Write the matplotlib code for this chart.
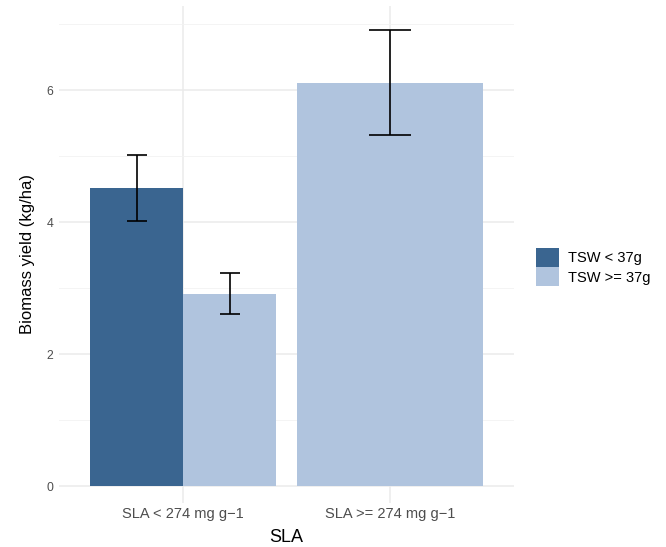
import numpy as np
import matplotlib.pyplot as plt
from matplotlib.patches import Patch

plt.rcParams['font.family'] = ['Liberation Sans', 'DejaVu Sans']

# data
categories = ['SLA < 274 mg g\u22121', 'SLA >= 274 mg g\u22121']
groups = ['TSW < 37g', 'TSW >= 37g']
colors = ['#3A6590', '#B0C4DE']

low_mean = [4.52]          # TSW < 37g, only in first SLA class
low_err = [0.50]
high_mean = [2.92, 6.12]   # TSW >= 37g
high_err = [0.31, 0.80]

fig = plt.figure(figsize=(6.66, 5.47), dpi=100)
ax = fig.add_axes([59 / 666, 1 - 503 / 547, (514 - 59) / 666, (503 - 6) / 547])

x = np.arange(1, len(categories) + 1)

# first category: dodged bars
ax.bar(x[0] - 0.225, low_mean[0], width=0.45, color=colors[0], zorder=2)
ax.bar(x[0] + 0.225, high_mean[0], width=0.45, color=colors[1], zorder=2)
ax.errorbar(x[0] - 0.225, low_mean[0], yerr=low_err[0], fmt='none',
            ecolor='black', elinewidth=1.2, capsize=7.5, capthick=1.2, zorder=3)
ax.errorbar(x[0] + 0.225, high_mean[0], yerr=high_err[0], fmt='none',
            ecolor='black', elinewidth=1.2, capsize=7.5, capthick=1.2, zorder=3)

# second category: single full-width bar
ax.bar(x[1], high_mean[1], width=0.9, color=colors[1], zorder=2)
ax.errorbar(x[1], high_mean[1], yerr=high_err[1], fmt='none',
            ecolor='black', elinewidth=1.2, capsize=15, capthick=1.2, zorder=3)

ax.set_ylim(-0.25, 7.28)
ax.set_xlim(0.4, 2.6)

ax.set_yticks([0, 2, 4, 6])
ax.set_yticks([1, 3, 5, 7], minor=True)
ax.set_xticks(x)
ax.set_xticklabels(categories)

ax.grid(True, which='major', color='#EBEBEB', linewidth=1.1, zorder=0)
ax.grid(True, which='minor', axis='y', color='#F2F2F2', linewidth=0.6, zorder=0)
ax.set_axisbelow(True)
for s in ax.spines.values():
    s.set_visible(False)
ax.tick_params(which='both', length=0, labelsize=8.8, labelcolor='#4D4D4D', pad=4)
ax.tick_params(axis='x', labelsize=10.5, pad=3)

ax.set_ylabel('Biomass yield (kg/ha)', fontsize=12, labelpad=8)
ax.set_xlabel('SLA', fontsize=13, labelpad=6)

handles = [Patch(facecolor=c, label=g) for c, g in zip(colors, groups)]
fig.legend(handles=handles, loc='center left', bbox_to_anchor=(530 / 666, 1 - 267 / 547),
           frameon=False, fontsize=10.5, handlelength=1.6, handleheight=1.6,
           handletextpad=0.6, labelspacing=0.05, borderaxespad=0)

plt.savefig('out.png', dpi=100)
